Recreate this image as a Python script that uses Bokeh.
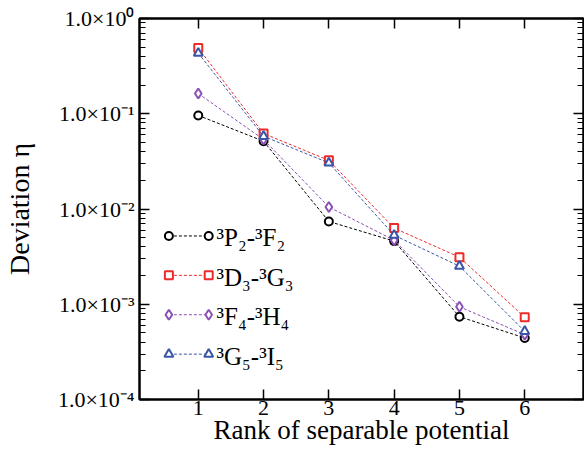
from bokeh.plotting import figure
from bokeh.models import (LogAxis, LinearAxis, FixedTicker, CustomJSTickFormatter,
                          Range1d, Label, ColumnDataSource)
from bokeh.embed import file_html
from bokeh.resources import INLINE

# ---- data ----
rank = [1, 2, 3, 4, 5, 6]
eta_P2F2 = [0.096, 0.0515, 0.0074, 0.0046, 0.00074, 0.000443]
eta_D3G3 = [0.49, 0.062, 0.0324, 0.0063, 0.00312, 0.00073]
eta_F4H4 = [0.163, 0.0537, 0.0105, 0.0047, 0.00094, 0.00048]
eta_G5I5 = [0.433, 0.058, 0.0305, 0.0053, 0.00251, 0.00052]
series_labels = ["³P₂-³F₂", "³D₃-³G₃", "³F₄-³H₄", "³G₅-³I₅"]
y_ticks = [1e-4, 1e-3, 1e-2, 1e-1, 1e0]
y_tick_labels = ["1.0×10⁻⁴", "1.0×10⁻³", "1.0×10⁻²", "1.0×10⁻¹", "1.0×10⁰"]
x_ticks = [1, 2, 3, 4, 5, 6]

colors = ["#000000", "#ee2a2a", "#8b4fb5", "#3a55a8"]
markers = ["circle", "square", "diamond", "triangle"]
msizes = [8, 8, 10, 9]
series = [eta_P2F2, eta_D3G3, eta_F4H4, eta_G5I5]

FONT = "Liberation Serif"

p = figure(frame_width=444, frame_height=381, y_axis_type="log",
           x_range=Range1d(0.1, 6.9), y_range=Range1d(1e-4, 1e0),
           output_backend="svg", toolbar_location=None,
           min_border_left=133, min_border_right=1, min_border_top=18,
           min_border_bottom=0, x_axis_location=None, y_axis_location=None)
p.grid.visible = False
p.outline_line_color = "black"
p.outline_line_width = 2
p.background_fill_color = "white"
p.border_fill_color = "white"

minor = [m * 10.0 ** e for e in range(-4, 0) for m in range(2, 10)]
yt = FixedTicker(ticks=y_ticks, minor_ticks=minor)
xt = FixedTicker(ticks=x_ticks, minor_ticks=[])

fmt = CustomJSTickFormatter(args=dict(tvals=y_ticks, tlabs=y_tick_labels), code="""
let best = 0, bd = 1e9;
for (let i = 0; i < tvals.length; i++) {
  const d = Math.abs(Math.log10(tvals[i]) - Math.log10(tick));
  if (d < bd) { bd = d; best = i; }
}
return tlabs[best];
""")
blank = CustomJSTickFormatter(code="return '';")

def style(ax, labels=True):
    ax.axis_line_color = "black"
    ax.axis_line_width = 2
    ax.major_tick_in = 10
    ax.major_tick_out = 0
    ax.minor_tick_in = 6
    ax.minor_tick_out = 0
    ax.major_tick_line_width = 1.5
    ax.minor_tick_line_width = 1
    ax.major_tick_line_color = "black"
    ax.minor_tick_line_color = "black"
    ax.major_label_text_color = "black"
    ax.axis_label_text_color = "black"
    if not labels:
        ax.formatter = blank
        ax.major_label_standoff = 0
        ax.major_label_text_font_size = "1px"

yl = LogAxis(ticker=yt, formatter=fmt, axis_label="Deviation η")
style(yl)
yl.major_label_text_font = FONT
yl.major_label_text_font_size = "22px"
yl.major_label_standoff = 5
yl.axis_label_text_font = FONT
yl.axis_label_text_font_size = "28px"
yl.axis_label_text_font_style = "normal"
yl.axis_label_standoff = 20
p.add_layout(yl, "left")

yr = LogAxis(ticker=yt)
style(yr, labels=False)
p.add_layout(yr, "right")

xb = LinearAxis(ticker=xt, axis_label="Rank of separable potential")
style(xb)
xb.major_label_text_font = FONT
xb.major_label_text_font_size = "22px"
xb.major_label_standoff = 1
xb.axis_label_text_font = FONT
xb.axis_label_text_font_size = "27px"
xb.axis_label_text_font_style = "normal"
xb.axis_label_standoff = -3
p.add_layout(xb, "below")

xtp = LinearAxis(ticker=xt)
style(xtp, labels=False)
p.add_layout(xtp, "above")

for ys, c, m, s in zip(series, colors, markers, msizes):
    src = ColumnDataSource(dict(x=rank, y=ys))
    p.line("x", "y", source=src, line_color=c, line_width=1, line_dash="3 2")
    p.scatter("x", "y", source=src, marker=m, size=s, line_color=c,
              fill_color="white", line_width=2)

# ---- legend (xmgrace style: marker at both ends of a dashed sample) ----
leg_x = [0.55, 1.16]
leg_log_top = -2.283
leg_step = 0.4136
for i, (c, m, s, lab) in enumerate(zip(colors, markers, msizes, series_labels)):
    yv = 10 ** (leg_log_top - leg_step * i)
    src = ColumnDataSource(dict(x=leg_x, y=[yv, yv]))
    p.line("x", "y", source=src, line_color=c, line_width=1, line_dash="3 2")
    p.scatter("x", "y", source=src, marker=m, size=s, line_color=c,
              fill_color="white", line_width=2)
    p.add_layout(Label(x=1.28, y=yv, text=lab, text_font=FONT,
                       text_font_size="25px", text_baseline="middle",
                       text_align="left", y_offset=-2, text_color="black"))

open("out.html", "w").write(file_html(p, INLINE))
